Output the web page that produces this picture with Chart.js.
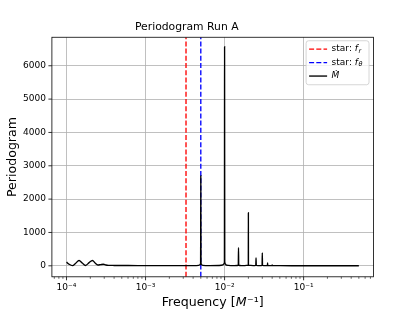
<!DOCTYPE html>
<html><head><meta charset="utf-8">
<script src="https://cdn.jsdelivr.net/npm/chart.js@4.4.0/dist/chart.umd.min.js"></script>
<style>html,body{margin:0;padding:0;background:#fff;} #wrap{width:415px;height:311px;}</style>
</head><body><div id="wrap"><canvas id="c" width="415" height="311"></canvas></div>
<script>
// ---- data ----
const frequency = [
  1.00e-4, 1.08e-4, 1.19e-4, 1.30e-4, 1.44e-4, 1.58e-4, 1.74e-4, 1.93e-4, 2.13e-4, 2.30e-4,
  2.49e-4, 2.70e-4, 2.92e-4, 3.15e-4, 3.40e-4, 4.00e-4, 5.50e-4, 8.00e-4, 1.20e-3, 2.00e-3,
  3.00e-3, 4.00e-3, 4.70e-3, 4.90e-3, 4.97e-3, 5.00e-3, 5.03e-3, 5.10e-3, 5.30e-3, 6.50e-3,
  8.50e-3, 9.50e-3, 9.85e-3, 9.95e-3, 1.000e-2, 1.005e-2, 1.015e-2, 1.05e-2, 1.20e-2, 1.45e-2,
  1.49e-2, 1.50e-2, 1.51e-2, 1.55e-2, 1.80e-2, 1.98e-2, 1.995e-2, 2.00e-2, 2.005e-2, 2.02e-2,
  2.30e-2, 2.48e-2, 2.50e-2, 2.52e-2, 2.80e-2, 2.98e-2, 3.00e-2, 3.02e-2, 3.30e-2, 3.48e-2,
  3.50e-2, 3.52e-2, 3.80e-2, 3.98e-2, 4.00e-2, 4.02e-2, 5.00e-2, 1.00e-1, 2.00e-1, 5.00e-1
];
const power = [
  110, 45, 5, 70, 160, 85, 10, 95, 160, 85,
  25, 35, 45, 25, 15, 10, 8, 6, 5, 4,
  4, 6, 15, 35, 80, 2700, 80, 35, 15, 6,
  8, 25, 60, 110, 6570, 110, 60, 20, 6, 8,
  20, 540, 20, 8, 6, 15, 30, 1590, 30, 15,
  6, 12, 235, 12, 6, 12, 385, 12, 5, 8,
  85, 8, 4, 5, 25, 5, 3, 2, 2, 2
];
const starFr = 0.00325;
const starFtheta = 0.005;
const xLimits = [6.53e-5, 0.766];
const yLimits = [-330, 6855];
const xMajorTicks = [1e-4, 1e-3, 1e-2, 1e-1];
const yTicks = [0, 1000, 2000, 3000, 4000, 5000, 6000];
const seriesLabels = ['star: $f_r$', 'star: $f_θ$', '$Ṁ$'];
const chartTitle = 'Periodogram Run A';
const xTitle = 'Frequency [$M$⁻¹]';
const yTitle = 'Periodogram';

// ---- helpers ----
const FONT = "'DejaVu Sans', sans-serif";
Chart.defaults.font.family = FONT;
Chart.defaults.color = '#000';
const SUP = {'-':'⁻','0':'⁰','1':'¹','2':'²','3':'³','4':'⁴','5':'⁵','6':'⁶','7':'⁷','8':'⁸','9':'⁹'};
function isDecade(v){ const l = Math.log10(v); return Math.abs(l - Math.round(l)) < 1e-9; }
function decadeLabel(v){ const e = Math.round(Math.log10(v)); return '10' + String(e).split('').map(c => SUP[c]).join(''); }
const xTickValues = [];
[xMajorTicks[0] / 10].concat(xMajorTicks).forEach(base => {
  for (let k = 1; k <= 9; k++) {
    const v = k === 1 ? base : k * base;
    if (v >= xLimits[0] && v <= xLimits[1]) xTickValues.push(v);
  }
});

// rich text: segments between $..$ are math (italic, _ = subscript)
function labelParts(label){
  const parts = [];
  label.split('$').forEach((seg, i) => {
    if (i % 2 === 0) { if (seg) parts.push({t: seg, it: false, sub: false}); }
    else {
      const [base, sub] = seg.split('_');
      parts.push({t: base, it: true, sub: false});
      if (sub) parts.push({t: sub, it: true, sub: true});
    }
  });
  return parts;
}
function partFont(p, size){ return (p.it ? 'italic ' : '') + (p.sub ? (size * 0.72) + 'px ' : size + 'px ') + FONT; }
function measureLabel(ctx, label, size){
  let w = 0; labelParts(label).forEach(p => { ctx.font = partFont(p, size); w += ctx.measureText(p.t).width + (p.it && !p.sub ? 0.6 : 0); }); return w;
}
function drawLabel(ctx, label, x, y, size){
  ctx.textBaseline = 'middle'; ctx.textAlign = 'left'; ctx.fillStyle = '#000';
  labelParts(label).forEach(p => {
    ctx.font = partFont(p, size);
    ctx.fillText(p.t, x, y + (p.sub ? size * 0.24 : 0));
    x += ctx.measureText(p.t).width + (p.it && !p.sub ? 0.6 : 0);
  });
}

const framePlugin = {
  id: 'frame',
  afterDraw(chart){
    const {ctx, chartArea: a, scales: {x, y}} = chart;
    ctx.save();
    ctx.strokeStyle = '#000';
    x.ticks.forEach(t => {
      const px = x.getPixelForValue(t.value);
      if (px < a.left - 0.5 || px > a.right + 0.5) return;
      const maj = isDecade(t.value);
      ctx.lineWidth = maj ? 0.8 : 0.6;
      ctx.beginPath(); ctx.moveTo(px, a.bottom); ctx.lineTo(px, a.bottom + (maj ? 3.5 : 2)); ctx.stroke();
    });
    y.ticks.forEach(t => {
      const py = y.getPixelForValue(t.value);
      ctx.lineWidth = 0.8;
      ctx.beginPath(); ctx.moveTo(a.left, py); ctx.lineTo(a.left - 3.5, py); ctx.stroke();
    });
    ctx.lineWidth = 0.8;
    ctx.strokeRect(a.left, a.top, a.right - a.left, a.bottom - a.top);

    // x-axis title with italic M
    const tw = measureLabel(ctx, xTitle, 12.6);
    drawLabel(ctx, xTitle, (a.left + a.right) / 2 - tw / 2, 302.5, 12.6);

    // legend (upper right, matplotlib style)
    const ds = chart.data.datasets;
    const textW = Math.max(...ds.map(d => measureLabel(ctx, d.label, 9)));
    const right = a.right - 4.5, top = a.top + 3.5;
    const w = 25.5 + textW + 6.5, h = 44;
    const left = right - w;
    ctx.beginPath();
    ctx.roundRect(left, top, w, h, 2.5);
    ctx.fillStyle = 'rgba(255,255,255,0.8)'; ctx.fill();
    ctx.strokeStyle = '#cccccc'; ctx.lineWidth = 0.8; ctx.stroke();
    ds.forEach((d, i) => {
      const cy = top + 8.3 + i * 13.5;
      ctx.strokeStyle = d.borderColor; ctx.lineWidth = d.borderWidth;
      ctx.setLineDash(d.borderDash || []);
      ctx.beginPath(); ctx.moveTo(left + 3, cy); ctx.lineTo(left + 21, cy); ctx.stroke();
      ctx.setLineDash([]);
      drawLabel(ctx, d.label, left + 25.5, cy, 9);
    });
    ctx.restore();
  }
};

new Chart(document.getElementById('c'), {
  type: 'line',
  data: {
    datasets: [
      { label: seriesLabels[0], data: [{x: starFr, y: yLimits[0]}, {x: starFr, y: yLimits[1]}],
        borderColor: '#ff0000', borderWidth: 1.35, borderDash: [5, 2.2], pointRadius: 0, order: 2 },
      { label: seriesLabels[1], data: [{x: starFtheta, y: yLimits[0]}, {x: starFtheta, y: yLimits[1]}],
        borderColor: '#0000ff', borderWidth: 1.35, borderDash: [5, 2.2], pointRadius: 0, order: 1 },
      { label: seriesLabels[2], data: frequency.map((f, i) => ({x: f, y: power[i]})),
        borderColor: '#000000', borderWidth: 1.35, pointRadius: 0, cubicInterpolationMode: 'monotone', order: 0 }
    ]
  },
  options: {
    responsive: false, animation: false, devicePixelRatio: 1,
    layout: { padding: { left: 0, right: 41.5, top: 0, bottom: 0 } },
    plugins: {
      legend: { display: false }, tooltip: { enabled: false },
      title: { display: true, text: chartTitle, color: '#000',
        font: { family: FONT, size: 10.8, weight: 'normal', lineHeight: 1.2 }, padding: { top: 21, bottom: 3.3 } }
    },
    scales: {
      x: {
        type: 'logarithmic', min: xLimits[0], max: xLimits[1],
        afterBuildTicks: s => { s.ticks = xTickValues.map(v => ({value: v, major: isDecade(v)})); },
        afterFit: s => { s.height = 34.2; },
        ticks: { autoSkip: false, maxRotation: 0, padding: 5.5, color: '#000', font: { family: FONT, size: 9 },
          callback: v => isDecade(v) ? decadeLabel(v) : '' },
        grid: { drawTicks: false, lineWidth: 0.8, color: c => (c.tick && isDecade(c.tick.value)) ? '#b0b0b0' : 'rgba(0,0,0,0)' },
        border: { display: false },
        title: { display: false }
      },
      y: {
        type: 'linear', min: yLimits[0], max: yLimits[1],
        afterBuildTicks: s => { s.ticks = yTicks.map(v => ({value: v})); },
        afterFit: s => { s.width = 51.9; },
        ticks: { padding: 6, color: '#000', font: { family: FONT, size: 9 }, callback: v => String(v) },
        grid: { drawTicks: false, lineWidth: 0.8, color: '#b0b0b0' },
        border: { display: false },
        title: { display: true, text: yTitle, color: '#000', font: { family: FONT, size: 12.6 }, padding: { top: 5, bottom: 0 } }
      }
    }
  },
  plugins: [framePlugin]
});
</script>
</body></html>
